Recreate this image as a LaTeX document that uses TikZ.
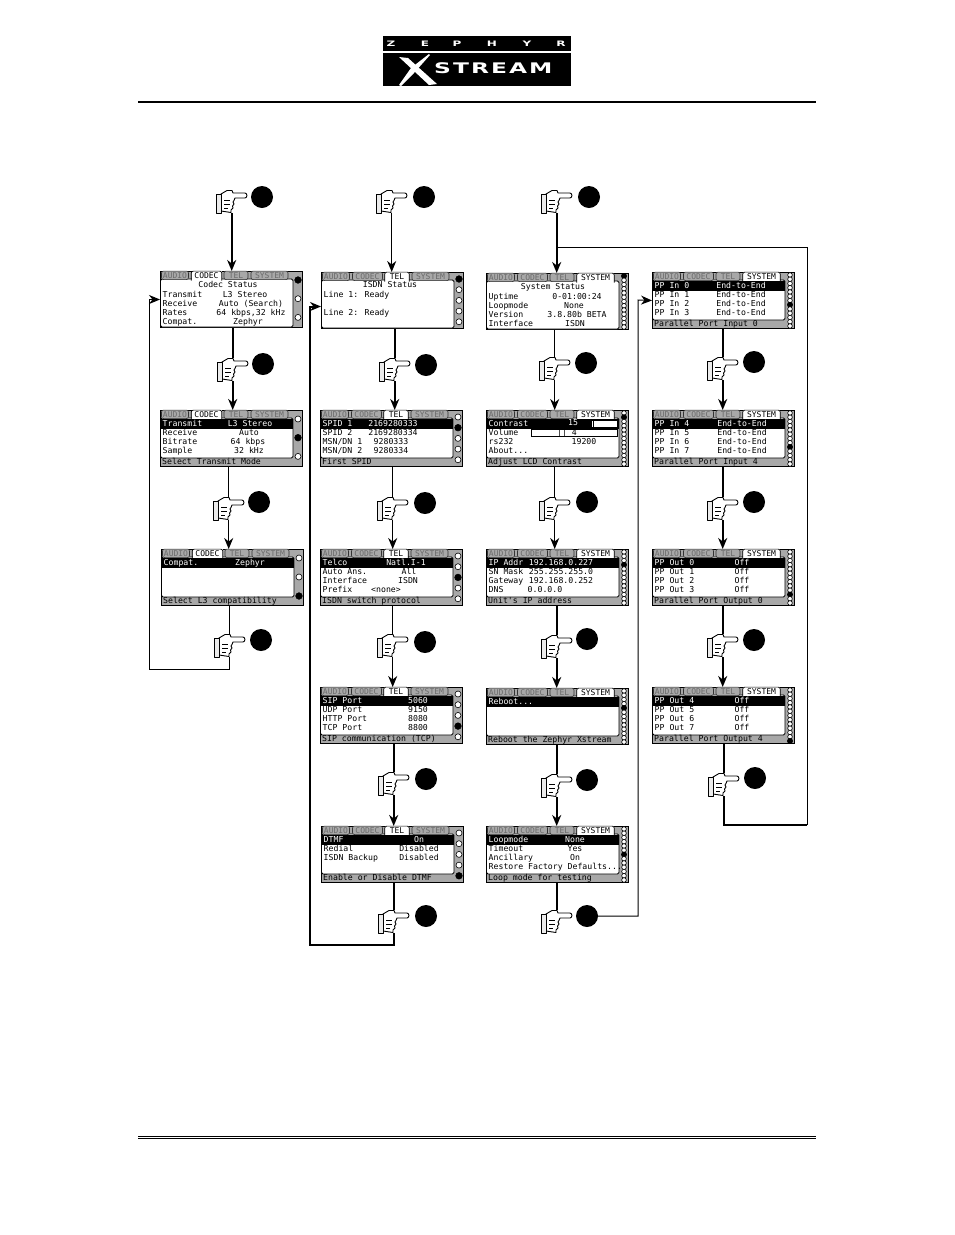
\documentclass[tikz,border=0pt]{standalone}
\usepackage{fontspec}
\usetikzlibrary{arrows.meta,positioning}
\newfontfamily\lcdfont{DejaVu Sans Mono}
\newfontfamily\logofont[LetterSpace=14,FakeStretch=1.6]{DejaVu Sans}
\definecolor{lcdgray}{gray}{0.66}
\tikzset{
  lcdframe/.style={draw=black, line width=1pt, fill=lcdgray, anchor=north west, minimum width=142pt, minimum height=56pt, inner sep=0pt},
  lcdpanel/.style={draw=black, line width=0.8pt, fill=white, rounded corners=1.5pt},
  lcdtaboff/.style={draw=black!80, line width=0.6pt, fill=lcdgray, rounded corners=2pt, text=black!58, font=\lcdfont\fontsize{8}{8}\selectfont, inner sep=0pt, minimum height=8.5pt},
  lcdtabon/.style={fill=white, text=black, font=\lcdfont\fontsize{8}{8}\selectfont, inner sep=0pt, minimum height=9pt},
  lcdtext/.style={font=\lcdfont\fontsize{8.2}{8}\selectfont, inner sep=0pt, anchor=west, text height=5.6pt, text depth=1.6pt},
  lcdvalue/.style={font=\lcdfont\fontsize{8.2}{8}\selectfont, inner sep=0pt, text height=5.6pt, text depth=1.6pt},
  lcdbar/.style={fill=black, inner sep=0pt, minimum width=132pt, minimum height=10pt},
  lcddot/.style={circle, draw=black, line width=0.6pt, fill=white, inner sep=0pt},
  handmark/.style={minimum width=31pt, minimum height=23pt, inner sep=0pt},
  pressdot/.style={circle, fill=black, inner sep=0pt, minimum size=22pt},
  handline/.style={draw=black, line width=0.9pt, fill=white, line join=round},
  link/.style={draw=black, line width=1pt},
  heavy/.style={line width=2pt},
  flow/.style={link, -{Stealth[length=11pt, width=9pt, inset=3.5pt]}},
  topband/.style={fill=black, inner sep=0pt, anchor=north west},
  logotext/.style={text=white, font=\logofont\bfseries, inner sep=0pt}
}
% screen with its tabs and white panel
\newcommand{\lcdscreen}[5]{
  \node[lcdframe] (#1) at (#2,#3) {};
  \draw[lcdpanel] ([shift={(0.5,8)}]#1.north west) rectangle ([shift={(133,#5)}]#1.north west);
  \foreach \tabnum/\tabname/\tabmid/\tabw in {1/AUDIO/15/27, 2/CODEC/46.5/30, 3/TEL/76/24, 4/SYSTEM/109.5/37}{
    \ifnum\tabnum=#4
      \node[lcdtabon, minimum width=\tabw pt] (#1-tab\tabnum) at ([shift={(\tabmid,4.8)}]#1.north west) {\tabname};
      \draw[line width=0.7pt, rounded corners=2pt] (#1-tab\tabnum.south west) -- (#1-tab\tabnum.north west) -- (#1-tab\tabnum.north east) -- (#1-tab\tabnum.south east);
    \else
      \node[lcdtaboff, minimum width=\tabw pt] (#1-tab\tabnum) at ([shift={(\tabmid,4.3)}]#1.north west) {\tabname};
    \fi
  }
}
% scroll marks down the right side
\newcommand{\lcddots}[6]{
  \foreach \dotnum in {1,...,#2}{
    \pgfmathsetmacro{\doty}{#3+(\dotnum-1)*#4}
    \ifnum\dotnum=#5
      \node[lcddot, fill=black, minimum size=#6pt+0.6pt] (#1-dot\dotnum) at ([shift={(138,\doty)}]#1.north west) {};
    \else
      \node[lcddot, minimum size=#6pt] (#1-dot\dotnum) at ([shift={(138,\doty)}]#1.north west) {};
    \fi
  }
}
% black top row
\newcommand{\lcdhead}[4]{
  \node[lcdbar] (#1-bar) at ([shift={(67,13.5)}]#1.north west) {};
  \node[lcdtext, text=white] (#1-headl) at ([shift={(2.5,14)}]#1.north west) {#2};
  \node[lcdvalue, text=white] (#1-headv) at ([shift={(#3,14)}]#1.north west) {#4};
}
\newcommand{\lcdrows}[2]{
  \foreach \rowy/\rowlabel/\rowx/\rowvalue in {#2}{
    \node[lcdtext] (#1-l\rowy) at ([shift={(2.5,\rowy)}]#1.north west) {\rowlabel};
    \node[lcdvalue] (#1-v\rowy) at ([shift={(\rowx,\rowy)}]#1.north west) {\rowvalue};
  }
}
\newcommand{\lcdfoot}[2]{
  \node[lcdtext] (#1-foot) at ([shift={(2,52.5)}]#1.north west) {#2};
}
% pointing hand with its disc: name, left, top, disc x, disc y
\newcommand{\presshand}[5]{
  \node[handmark, anchor=north west] (#1) at (#2,#3) {};
  \node[pressdot] (#1-dot) at (#4,#5) {};
  \begin{scope}[shift={(#1.north west)}]
    \draw[handline] (5,4) -- (11,0.5) -- (16,0.5) -- (17,3) -- (29,3) .. controls (31.5,3) and (31.5,8) .. (29,8) -- (19,8) -- (18,10.5) -- (17,12) -- (18,14) -- (16.5,16) -- (17,18) -- (15,20) -- (15,22.5) -- (5,21) -- cycle;
    \draw[handline, fill=black!8] (0,4) rectangle (5,23);
    \draw[line width=0.6pt] (8,10) -- (14,10) (8,14) -- (14,14) (8,18) -- (12,18);
  \end{scope}
}
\begin{document}
\begin{tikzpicture}[x=1pt, y=-1pt]
  \useasboundingbox (0,0) rectangle (954,1235);

  % header
  \node[topband, minimum width=188pt, minimum height=15pt] (logotop) at (383,36) {};
  \node[topband, minimum width=188pt, minimum height=33pt] (logobot) at (383,53) {};
  \foreach \letx/\letname in {391/Z, 425/E, 457/P, 492/H, 527/Y, 561/R}
    \node[logotext, font=\logofont\bfseries\fontsize{7.5}{8}\selectfont] (logo\letname) at (\letx,43.5) {\letname};
  \node[logotext, anchor=west, font=\logofont\bfseries\fontsize{14.6}{15}\selectfont] (logostream) at (434,68.5) {STREAM};
  \fill[white] (399,57) -- (408,58) -- (437,84) -- (429,85) -- cycle;
  \fill[white] (429,54) -- (430,55) -- (414,73) -- (401,86) -- (399,85) -- (411,68) -- cycle;
  \draw[line width=2pt] (138,101.5) -- (816,101.5);
  \draw[line width=1pt] (138,1136.3) -- (816,1136.3);
  \draw[line width=1pt] (138,1138.7) -- (816,1138.7);

  % codec column
  \lcdscreen{s11}{160}{271}{2}{56}
  \lcdrows{s11}{14//68/Codec Status, 24/Transmit/85/L3 Stereo, 33/Receive/91/Auto (Search), 42/Rates/91/{64 kbps,32 kHz}, 51/Compat./88/Zephyr}
  \lcddots{s11}{3}{9}{18.7}{1}{6}

  \lcdscreen{s12}{160}{410}{2}{48}
  \lcdhead{s12}{Transmit}{90}{L3 Stereo}
  \lcdrows{s12}{23/Receive/89/Auto, 32/Bitrate/88/64 kbps, 41/Sample/89/32 kHz}
  \lcdfoot{s12}{Select Transmit Mode}
  \lcddots{s12}{3}{9}{18.7}{2}{6}

  \lcdscreen{s13}{161}{549}{2}{48}
  \lcdhead{s13}{Compat.}{89}{Zephyr}
  \lcdfoot{s13}{Select L3 compatibility}
  \lcddots{s13}{3}{9}{19}{3}{6}

  \presshand{h11}{216}{190}{262}{197}
  \presshand{h12}{217}{358}{263}{364}
  \presshand{h13}{213}{497}{259}{502}
  \presshand{h14}{214}{634}{261}{640}

  % tel column
  \lcdscreen{s21}{321}{272}{3}{56}
  \lcdrows{s21}{13//69/ISDN Status, 23/Line 1:/56/Ready, 41/Line 2:/56/Ready}
  \lcddots{s21}{5}{7}{10.7}{1}{6}

  \lcdscreen{s22}{320}{410}{3}{48}
  \lcdhead{s22}{SPID 1}{73}{2169280333}
  \lcdrows{s22}{23/SPID 2/73/2169280334, 32/{MSN/DN 1}/71/9280333, 41/{MSN/DN 2}/71/9280334}
  \lcdfoot{s22}{First SPID}
  \lcddots{s22}{5}{7}{10.7}{2}{6}

  \lcdscreen{s23}{320}{549}{3}{48}
  \lcdhead{s23}{Telco}{86}{Natl.I-1}
  \lcdrows{s23}{23/Auto Ans./89/All, 32/Interface/88/ISDN, 41/Prefix/66/{<none>}}
  \lcdfoot{s23}{ISDN switch protocol}
  \lcddots{s23}{5}{7}{10.7}{3}{6}

  \lcdscreen{s24}{320}{687}{3}{48}
  \lcdhead{s24}{SIP Port}{98}{5060}
  \lcdrows{s24}{23/UDP Port/98/9150, 32/HTTP Port/98/8080, 41/TCP Port/98/8800}
  \lcdfoot{s24}{SIP communication (TCP)}
  \lcddots{s24}{5}{7}{10.7}{4}{6}

  \lcdscreen{s25}{321}{826}{3}{48}
  \lcdhead{s25}{DTMF}{98}{On}
  \lcdrows{s25}{23/Redial/98/Disabled, 32/ISDN Backup/98/Disabled}
  \lcdfoot{s25}{Enable or Disable DTMF}
  \lcddots{s25}{5}{7}{10.7}{5}{6}

  \presshand{h21}{376}{190}{424}{197}
  \presshand{h22}{379}{358}{426}{365}
  \presshand{h23}{377}{497}{425}{503}
  \presshand{h24}{377}{634}{425}{642}
  \presshand{h25}{378}{772}{426}{779}
  \presshand{h26}{378}{910}{426}{916}

  % system column
  \lcdscreen{s31}{486}{273}{4}{56}
  \lcdrows{s31}{14//67/System Status, 24/Uptime/91/0-01:00:24, 33/Loopmode/88/None, 42/Version/91/{3.8.80b BETA}, 51/Interface/89/ISDN}
  \lcddots{s31}{13}{3}{4.25}{1}{4.6}

  \lcdscreen{s32}{486}{410}{4}{48}
  \lcdhead{s32}{Contrast}{200}{}
  \node[draw=black, fill=white, line width=0.7pt, inner sep=0pt, minimum width=86pt, minimum height=7pt] (s32-barc) at ([shift={(88.7,13.7)}]s32.north west) {};
  \node[fill=black, inner sep=0pt, minimum width=60pt, minimum height=7pt] (s32-fillc) at ([shift={(75.7,13.7)}]s32.north west) {};
  \node[fill=black, inner sep=0pt, minimum width=0.8pt, minimum height=7pt] (s32-tickc) at ([shift={(107.5,13.7)}]s32.north west) {};
  \node[lcdvalue, text=white] (s32-numc) at ([shift={(87,13.7)}]s32.north west) {15};
  \node[draw=black, fill=white, line width=0.7pt, inner sep=0pt, minimum width=86pt, minimum height=7.5pt] (s32-barv) at ([shift={(88.7,23)}]s32.north west) {};
  \lcdrows{s32}{23/Volume/81/{|| 4}, 32/rs232/98/19200, 41/{About...}/0/}
  \lcdfoot{s32}{Adjust LCD Contrast}
  \lcddots{s32}{13}{3}{4.25}{2}{4.6}

  \lcdscreen{s33}{486}{549}{4}{48}
  \lcdhead{s33}{IP Addr}{75}{192.168.0.227}
  \lcdrows{s33}{23/SN Mask/75/255.255.255.0, 32/Gateway/75/192.168.0.252, 41/DNS/59/0.0.0.0}
  \lcdfoot{s33}{Unit's IP address}
  \lcddots{s33}{13}{3}{4.25}{4}{4.6}

  \lcdscreen{s34}{486}{688}{4}{48}
  \lcdhead{s34}{Reboot...}{200}{}
  \lcdfoot{s34}{Reboot the Zephyr Xstream}
  \lcddots{s34}{13}{3}{4.25}{5}{4.6}

  \lcdscreen{s35}{486}{826}{4}{48}
  \lcdhead{s35}{Loopmode}{89}{None}
  \lcdrows{s35}{23/Timeout/89/Yes, 32/Ancillary/89/On, 41/{Restore Factory Defaults...}/0/}
  \lcdfoot{s35}{Loop mode for testing}
  \lcddots{s35}{13}{3}{4.25}{7}{4.6}

  \presshand{h31}{541}{190}{589}{197}
  \presshand{h32}{539}{357}{586}{363}
  \presshand{h33}{539}{497}{587}{502}
  \presshand{h34}{541}{635}{587}{639}
  \presshand{h35}{541}{774}{587}{780}
  \presshand{h36}{541}{910}{587}{916}

  % parallel port column
  \lcdscreen{s41}{652}{272}{4}{48}
  \lcdhead{s41}{PP In 0}{89}{End-to-End}
  \lcdrows{s41}{23/PP In 1/89/End-to-End, 32/PP In 2/89/End-to-End, 41/PP In 3/89/End-to-End}
  \lcdfoot{s41}{Parallel Port Input 0}
  \lcddots{s41}{13}{3}{4.25}{8}{4.6}

  \lcdscreen{s42}{652}{410}{4}{48}
  \lcdhead{s42}{PP In 4}{90}{End-to-End}
  \lcdrows{s42}{23/PP In 5/90/End-to-End, 32/PP In 6/90/End-to-End, 41/PP In 7/90/End-to-End}
  \lcdfoot{s42}{Parallel Port Input 4}
  \lcddots{s42}{13}{3}{4.25}{9}{4.6}

  \lcdscreen{s43}{652}{549}{4}{48}
  \lcdhead{s43}{PP Out 0}{90}{Off}
  \lcdrows{s43}{23/PP Out 1/90/Off, 32/PP Out 2/90/Off, 41/PP Out 3/90/Off}
  \lcdfoot{s43}{Parallel Port Output 0}
  \lcddots{s43}{13}{3}{4.25}{11}{4.6}

  \lcdscreen{s44}{652}{687}{4}{48}
  \lcdhead{s44}{PP Out 4}{90}{Off}
  \lcdrows{s44}{23/PP Out 5/90/Off, 32/PP Out 6/90/Off, 41/PP Out 7/90/Off}
  \lcdfoot{s44}{Parallel Port Output 4}
  \lcddots{s44}{13}{3}{4.25}{13}{4.6}

  \presshand{h42}{707}{357}{754}{362}
  \presshand{h43}{707}{497}{754}{502}
  \presshand{h44}{707}{634}{754}{640}
  \presshand{h45}{708}{773}{755}{778}

  \coordinate (backcodec) at (149,669);
  \coordinate (backtel) at (310,945);
  \coordinate (backsys) at (638,300);
  \coordinate (backpport) at (807,825);
  \coordinate (backtop) at (807,247);

  % codec links
  \draw[flow, heavy] (h11.south) -- (h11.south |- s11.north);
  \draw[link, heavy] (h12.north |- s11.south) -- (h12.north);
  \draw[flow, heavy] (h12.south) -- (h12.south |- s12.north);
  \draw[link] (h13.north |- s12.south) -- (h13.north);
  \draw[flow] (h13.south) -- (h13.south |- s13.north);
  \draw[link] (h14.north |- s13.south) -- (h14.north);
  \draw[flow] (h14.south) |- (backcodec) |- (s11.west);

  % tel links
  \draw[flow] (h21.south) -- (h21.south |- s21.north);
  \draw[link, heavy] (h22.north |- s21.south) -- (h22.north);
  \draw[flow, heavy] (h22.south) -- (h22.south |- s22.north);
  \draw[link] (h23.north |- s22.south) -- (h23.north);
  \draw[flow] (h23.south) -- (h23.south |- s23.north);
  \draw[link] (h24.north |- s23.south) -- (h24.north);
  \draw[flow] (h24.south) -- (h24.south |- s24.north);
  \draw[link, heavy] (h25.north |- s24.south) -- (h25.north);
  \draw[flow, heavy] (h25.south) -- (h25.south |- s25.north);
  \draw[link, heavy] (h26.north |- s25.south) -- (h26.north);
  \draw[flow, heavy] (h26.south) |- (backtel) |- ([yshift=-6pt]s21.west);

  % system links
  \draw[flow, heavy] (h31.south) -- (h31.south |- s31.north);
  \draw[link] (h32.north |- s31.south) -- (h32.north);
  \draw[flow] (h32.south) -- (h32.south |- s32.north);
  \draw[link] (h33.north |- s32.south) -- (h33.north);
  \draw[flow] (h33.south) -- (h33.south |- s33.north);
  \draw[link, heavy] (h34.north |- s33.south) -- (h34.north);
  \draw[flow, heavy] (h34.south) -- (h34.south |- s34.north);
  \draw[link, heavy] (h35.north |- s34.south) -- (h35.north);
  \draw[flow, heavy] (h35.south) -- (h35.south |- s35.north);
  \draw[link, heavy] (h36.north |- s35.south) -- (h36.north);
  \draw[flow] (h36-dot.east) -| (backsys) -- (s41.west);

  % parallel port links
  \draw[link, heavy] (h42.north |- s41.south) -- (h42.north);
  \draw[flow, heavy] (h42.south) -- (h42.south |- s42.north);
  \draw[link, heavy] (h43.north |- s42.south) -- (h43.north);
  \draw[flow, heavy] (h43.south) -- (h43.south |- s43.north);
  \draw[link, heavy] (h44.north |- s43.south) -- (h44.north);
  \draw[flow, heavy] (h44.south) -- (h44.south |- s44.north);
  \draw[link, heavy] (h45.north |- s44.south) -- (h45.north);
  \draw[link, heavy] (h45.south) |- (backpport);
  \draw[link] (backpport) -- (backtop) -- (h31.south |- backtop);
\end{tikzpicture}
\end{document}
